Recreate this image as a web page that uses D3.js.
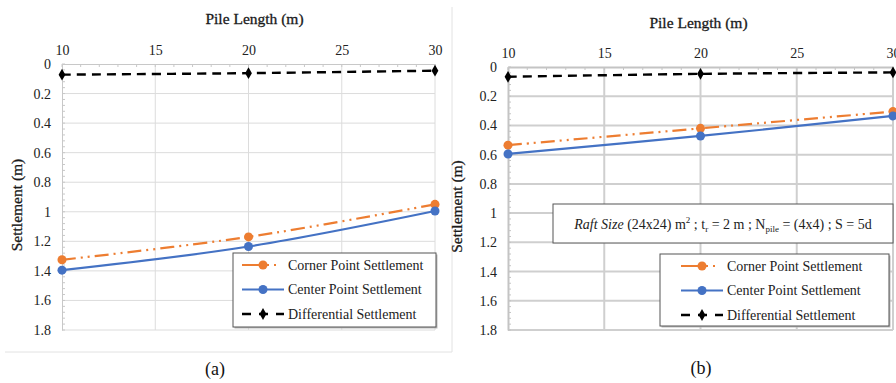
<!DOCTYPE html>
<html>
<head>
<meta charset="utf-8">
<script src="https://cdn.jsdelivr.net/npm/d3@7"></script>
<style>
  body { margin: 0; background: #fff; }
  svg, svg text { font-family: "Liberation Serif", "DejaVu Serif", serif; }
</style>
</head>
<body>
<div id="chart"></div>
<script>
(function(){
    var width = 896, height = 383;
    var FONT = "'Liberation Serif', 'DejaVu Serif', serif";

    // data
    var pileLength = [10, 20, 30];
    var xTicks = [10, 15, 20, 25, 30];
    var yTicks = [0, 0.2, 0.4, 0.6, 0.8, 1, 1.2, 1.4, 1.6, 1.8];

    var cornerA = [1.325, 1.17, 0.95];
    var centerA = [1.395, 1.235, 0.995];
    var diffA   = [0.072, 0.062, 0.045];

    var cornerB = [0.535, 0.42, 0.305];
    var centerB = [0.595, 0.472, 0.335];
    var diffB   = [0.067, 0.047, 0.037];

    var seriesNames = ["Corner Point Settlement", "Center Point Settlement", "Differential Settlement"];

    var svg = d3.select('#chart')
    .append("svg")
    .attr("width", width)
    .attr("height", height)
    .attr("font-family", FONT);

    // panel frame lines
    svg.append("line").attr("x1",452).attr("x2",452).attr("y1",7).attr("y2",352)
    .attr("stroke","#e2e2e2").attr("stroke-width",1);
    svg.append("line").attr("x1",5).attr("x2",452).attr("y1",352).attr("y2",352)
    .attr("stroke","#e2e2e2").attr("stroke-width",1);

    function drawPanel(p) {
        var g = svg.append("g");
        var x = d3.scaleLinear().domain([10,30]).range([p.x0, p.x1]);
        var y = d3.scaleLinear().domain([0,1.8]).range([p.y0, p.y1]);

        // grid
        g.selectAll(".vgrid").data(xTicks.slice(1)).enter().append("line")
        .attr("x1", d => x(d)).attr("x2", d => x(d))
        .attr("y1", y(0)).attr("y2", y(1.8))
        .attr("stroke", p.gridColor).attr("stroke-width", p.gridWidth);
        g.selectAll(".hgrid").data(yTicks.slice(1)).enter().append("line")
        .attr("x1", x(10)).attr("x2", x(30))
        .attr("y1", d => y(d)).attr("y2", d => y(d))
        .attr("stroke", p.gridColor).attr("stroke-width", p.gridWidth);

        // top axis
        var topAxis = d3.axisTop(x).tickValues(xTicks).tickSize(0).tickPadding(9)
        .tickFormat(d3.format("d"));
        var ta = g.append("g").attr("transform","translate(0,"+y(0)+")").call(topAxis)
        .attr("font-family", FONT).attr("font-size", 14);
        ta.select(".domain").attr("stroke", p.axisColor).attr("stroke-width", p.gridWidth);
        ta.selectAll("text").attr("fill","#222");

        // minor ticks on the top axis
        g.selectAll(".xminor").data(d3.range(10, 30.01, 1)).enter().append("line")
        .attr("x1", d => x(d)).attr("x2", d => x(d))
        .attr("y1", y(0)).attr("y2", y(0)+3)
        .attr("stroke", p.axisColor).attr("stroke-width", 1);

        // left axis
        var leftAxis = d3.axisLeft(y).tickValues(yTicks).tickSize(0).tickPadding(11)
        .tickFormat(d => d === 0 ? "0" : d3.format("~g")(d));
        var la = g.append("g").attr("transform","translate("+x(10)+",0)").call(leftAxis)
        .attr("font-family", FONT).attr("font-size", 14);
        la.select(".domain").attr("stroke", p.axisColor).attr("stroke-width", p.gridWidth);
        la.selectAll("text").attr("fill","#222");

        g.selectAll(".yminor").data(d3.range(0, 1.801, 0.04)).enter().append("line")
        .attr("x1", x(10)).attr("x2", x(10)+3)
        .attr("y1", d => y(d)).attr("y2", d => y(d))
        .attr("stroke", p.axisColor).attr("stroke-width", 1);

        // titles
        g.append("text").attr("x", (p.x0+p.x1)/2 + p.titleDx).attr("y", p.titleY)
        .attr("text-anchor","middle").attr("font-size", 15.5).attr("fill","#1a1a1a")
        .attr("stroke","#1a1a1a").attr("stroke-width",0.3)
        .text("Pile Length (m)");
        g.append("text")
        .attr("transform","translate("+p.yTitleX+","+(y(0.9)+8)+") rotate(-90)")
        .attr("text-anchor","middle").attr("font-size", 15.5).attr("fill","#1a1a1a")
        .attr("stroke","#1a1a1a").attr("stroke-width",0.3)
        .text("Settlement (m)");

        var line = d3.line().x((d,i) => x(pileLength[i])).y(d => y(d))
        .curve(d3.curveCatmullRom);

        var series = [
            {vals: p.corner, color:"#ED7D31", dash:"14,5,2,5,2,5", width:2.2, marker:"circle"},
            {vals: p.center, color:"#4472C4", dash:null, width:2.2, marker:"circle"},
            {vals: p.diff, color:"#000", dash:"9,6", width:2.4, marker:"diamond"}
        ];

        series.forEach(function(s){
            g.append("path").datum(s.vals)
            .attr("d", line)
            .attr("fill","none")
            .attr("stroke", s.color)
            .attr("stroke-width", s.width)
            .attr("stroke-dasharray", s.dash);
            var sym = s.marker === "circle" ? d3.symbolCircle : d3.symbolDiamond;
            var sz = s.marker === "circle" ? 64 : 40;
            g.selectAll(null).data(s.vals).enter().append("path")
            .attr("d", d3.symbol().type(sym).size(sz))
            .attr("transform", (d,i) => "translate("+x(pileLength[i])+","+y(d)+")")
            .attr("fill", s.color);
        });

        // legend
        var lg = g.append("g");
        lg.append("rect").attr("x", p.leg.x+1.5).attr("y", p.leg.y+1.5)
        .attr("width", p.leg.w).attr("height", p.leg.h)
        .attr("fill","#bbb");
        lg.append("rect").attr("x", p.leg.x).attr("y", p.leg.y)
        .attr("width", p.leg.w).attr("height", p.leg.h)
        .attr("fill","#fff").attr("stroke","#555").attr("stroke-width",1);
        seriesNames.forEach(function(name, i){
            var ly = p.leg.y + 12 + i*24.5;
            var s = series[i];
            var lx0 = p.leg.x + p.leg.sx, lx1 = lx0 + 42;
            lg.append("line").attr("x1", lx0).attr("x2", lx1).attr("y1", ly).attr("y2", ly)
            .attr("stroke", s.color).attr("stroke-width", s.width)
            .attr("stroke-dasharray", i === 0 ? "20,5,2,5,2" : (i === 2 ? "9,8" : null));
            lg.append("path")
            .attr("d", d3.symbol().type(s.marker === "circle" ? d3.symbolCircle : d3.symbolDiamond)
                .size(s.marker === "circle" ? 64 : 40))
            .attr("transform","translate("+((lx0+lx1)/2)+","+ly+")")
            .attr("fill", s.color);
            lg.append("text").attr("x", lx1 + 4).attr("y", ly + 4.5)
            .attr("font-size", 14).attr("fill","#222").text(name);
        });

        g.append("text").attr("x", p.label.x).attr("y", p.label.y)
        .attr("text-anchor","middle").attr("font-size", 18).attr("fill","#111")
        .text(p.label.t);

        return {x: x, y: y, g: g};
    }

    drawPanel({
        x0: 62, x1: 435, y0: 64, y1: 330,
        gridColor:"#dcdcdc", gridWidth:1, axisColor:"#c8c8c8",
        titleY: 24, titleDx: 6, yTitleX: 22,
        corner: cornerA, center: centerA, diff: diffA,
        leg: {x:233, y:253, w:203, h:74, sx:9},
        label: {x:215, y:375, t:"(a)"}
    });

    var pb = drawPanel({
        x0: 508, x1: 893, y0: 67, y1: 330,
        gridColor:"#cfcfcf", gridWidth:2, axisColor:"#c4c4c4",
        titleY: 28, titleDx: -2, yTitleX: 462,
        corner: cornerB, center: centerB, diff: diffB,
        leg: {x:660, y:254, w:229, h:72, sx:21},
        label: {x:701, y:374, t:"(b)"}
    });

    // annotation box in panel (b)
    var ann = pb.g.append("g");
    ann.append("rect").attr("x",553).attr("y",204).attr("width",340).attr("height",39)
    .attr("fill","#fff").attr("stroke","#555").attr("stroke-width",1);
    var t = ann.append("text").attr("x",723).attr("y",229).attr("text-anchor","middle")
    .attr("font-size",14).attr("fill","#222");
    t.append("tspan").attr("font-style","italic").text("Raft Size");
    t.append("tspan").text(" (24x24) m");
    t.append("tspan").attr("font-size",9).attr("dy",-6).text("2");
    t.append("tspan").attr("dy",6).text(" ; t");
    t.append("tspan").attr("font-size",9).attr("dy",3).text("r");
    t.append("tspan").attr("dy",-3).text(" = 2 m ; N");
    t.append("tspan").attr("font-size",9).attr("dy",3).text("pile");
    t.append("tspan").attr("dy",-3).text(" = (4x4) ; S = 5d");
})();
</script>
</body>
</html>
